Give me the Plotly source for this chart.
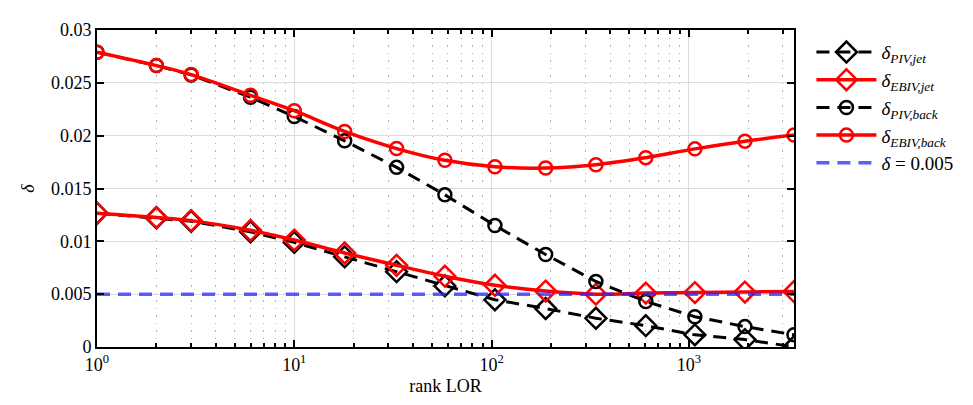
import plotly.graph_objects as go
import numpy as np

rank = [1, 2, 3, 6, 10, 18, 33, 58, 104, 188, 338, 605, 1073, 1924, 3412]
piv_jet = [0.01266, 0.01222, 0.01190, 0.01090, 0.00990, 0.00853, 0.00713, 0.00578, 0.00447,
           0.00364, 0.00272, 0.00202, 0.00115, 0.00070, 0.00002]
ebiv_jet = [0.01266, 0.01226, 0.01196, 0.01104, 0.01012, 0.00890, 0.00773, 0.00670, 0.00584,
            0.00529, 0.00500, 0.00510, 0.00515, 0.00520, 0.00525]
piv_back = [0.02789, 0.02663, 0.02575, 0.02364, 0.02181, 0.01951, 0.01700, 0.01440, 0.01150,
            0.00875, 0.00620, 0.00431, 0.00287, 0.00193, 0.00116]
ebiv_back = [0.02789, 0.02663, 0.02578, 0.02382, 0.02236, 0.02040, 0.01878, 0.01767, 0.01706,
             0.01694, 0.01725, 0.01792, 0.01875, 0.01948, 0.02006]
threshold = 0.005

xticks = [1, 10, 100, 1000]
xticklabels = ["10<sup>0</sup>", "10<sup>1</sup>", "10<sup>2</sup>", "10<sup>3</sup>"]
yticks = [0, 0.005, 0.01, 0.015, 0.02, 0.025, 0.03]
yticklabels = ["0", "0.005", "0.01", "0.015", "0.02", "0.025", "0.03"]

FONT = "Liberation Serif, DejaVu Serif, serif"

minor_x = [m * d for d in [1, 10, 100, 1000] for m in range(2, 10) if m * d < rank[-1]]

fig = go.Figure()
fig.add_trace(go.Scatter(
    x=rank, y=piv_jet, mode="lines+markers", name="<i>δ<sub>PIV,jet</sub></i>",
    line=dict(color="black", width=3, dash="13px,8px"),
    marker=dict(symbol="diamond-open", size=16, color="black", line=dict(width=2.5)),
))
fig.add_trace(go.Scatter(
    x=rank, y=ebiv_jet, mode="lines+markers", name="<i>δ<sub>EBIV,jet</sub></i>",
    line=dict(color="red", width=3.5, shape="spline"),
    marker=dict(symbol="diamond-open", size=16, color="red", line=dict(width=2.5)),
))
fig.add_trace(go.Scatter(
    x=rank, y=piv_back, mode="lines+markers", name="<i>δ<sub>PIV,back</sub></i>",
    line=dict(color="black", width=3, dash="13px,8px"),
    marker=dict(symbol="circle-open", size=13, color="black", line=dict(width=2.5)),
))
fig.add_trace(go.Scatter(
    x=rank, y=ebiv_back, mode="lines+markers", name="<i>δ<sub>EBIV,back</sub></i>",
    line=dict(color="red", width=3.5, shape="spline"),
    marker=dict(symbol="circle-open", size=13, color="red", line=dict(width=2.5)),
))
fig.add_trace(go.Scatter(
    x=[rank[0], rank[-1]], y=[threshold, threshold], mode="lines",
    name="<i>δ</i> = 0.005",
    line=dict(color="rgba(40,40,255,0.75)", width=3.5, dash="13px,8px"),
))

# page body has an 8px margin; compensate so the plot area lands where the reference has it
fig.update_layout(
    width=965, height=397,
    margin=dict(l=89, r=179, t=12, b=58),
    paper_bgcolor="white", plot_bgcolor="white",
    font=dict(family=FONT, size=17, color="black"),
    showlegend=True,
    legend=dict(x=1.025, y=0.99, xanchor="left", yanchor="top",
                bgcolor="rgba(0,0,0,0)", font=dict(family=FONT, size=19),
                tracegroupgap=0, itemwidth=60),
)
fig.update_xaxes(
    type="log", range=[0, np.log10(rank[-1])],
    tickmode="array", tickvals=xticks, ticktext=xticklabels,
    ticks="inside", ticklen=7, tickwidth=2, tickcolor="black",
    showline=True, linecolor="black", linewidth=2, mirror="allticks",
    showgrid=True, gridcolor="#dcdcdc", gridwidth=1,
    minor=dict(tickvals=minor_x, ticks="inside", ticklen=4, tickcolor="black",
               showgrid=True, gridcolor="#b0b0b0", griddash="1.5px,6px", gridwidth=1),
    title=dict(text="rank LOR", standoff=6, font=dict(family=FONT, size=18)),
    tickfont=dict(family=FONT, size=18),
    zeroline=False,
)
fig.update_yaxes(
    range=[0, 0.03],
    tickmode="array", tickvals=yticks, ticktext=yticklabels,
    ticks="inside", ticklen=7, tickwidth=2, tickcolor="black",
    showline=True, linecolor="black", linewidth=2, mirror="allticks",
    showgrid=True, gridcolor="#dcdcdc", gridwidth=1,
    title=dict(text="<i>δ</i>", standoff=12, font=dict(family=FONT, size=18)),
    tickfont=dict(family=FONT, size=18),
    zeroline=False,
)
fig.write_html("out.html")
